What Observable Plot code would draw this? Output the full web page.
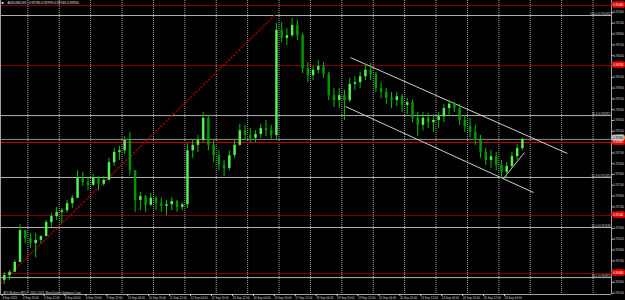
<!DOCTYPE html>
<html>
<head>
<meta charset="utf-8">
<script src="https://cdn.jsdelivr.net/npm/d3@7"></script>
<script src="https://cdn.jsdelivr.net/npm/@observablehq/plot@0.6"></script>
<style>
  html, body { margin: 0; padding: 0; background: #000; }
  #chart { width: 625px; height: 300px; overflow: hidden; }
</style>
</head>
<body>
<div id="chart"></div>
<script>
// ---- Data (AUDUSD, H1, each entry = 4 hourly bars) ----
const open = [0.9034,0.9043,0.9049,0.9067,0.9126,0.9111,0.9102,0.9108,0.9115,0.9141,
  0.9152,0.9160,0.9163,0.9176,0.9186,0.9223,0.9215,0.9210,0.9223,0.9212,
  0.9219,0.9252,0.9271,0.9274,0.9293,0.9237,0.9182,0.9189,0.9173,0.9186,
  0.9176,0.9171,0.9174,0.9180,0.9169,0.9174,0.9274,0.9284,0.9293,0.9334,
  0.9284,0.9265,0.9247,0.9241,0.9265,0.9284,0.9311,0.9302,0.9297,0.9304,
  0.9315,0.9311,0.9302,0.9497,0.9482,0.9487,0.9506,0.9487,0.9426,0.9413,
  0.9423,0.9430,0.9415,0.9376,0.9367,0.9376,0.9367,0.9397,0.9400,0.9411,
  0.9423,0.9415,0.9389,0.9382,0.9371,0.9367,0.9374,0.9358,0.9363,0.9334,
  0.9321,0.9334,0.9326,0.9330,0.9337,0.9352,0.9360,0.9352,0.9330,0.9319,
  0.9308,0.9293,0.9271,0.9256,0.9263,0.9247,0.9234,0.9245,0.9263,0.9278];
const high = [0.9049,0.9052,0.9071,0.9137,0.9126,0.9121,0.9121,0.9117,0.9145,0.9158,
  0.9169,0.9167,0.9182,0.9191,0.9237,0.9234,0.9223,0.9230,0.9226,0.9226,
  0.9260,0.9278,0.9282,0.9300,0.9308,0.9237,0.9197,0.9191,0.9195,0.9189,
  0.9186,0.9182,0.9187,0.9182,0.9178,0.9287,0.9293,0.9302,0.9345,0.9339,
  0.9293,0.9274,0.9256,0.9274,0.9293,0.9323,0.9321,0.9315,0.9311,0.9323,
  0.9330,0.9321,0.9510,0.9511,0.9500,0.9519,0.9515,0.9491,0.9437,0.9430,
  0.9441,0.9437,0.9419,0.9389,0.9389,0.9386,0.9408,0.9411,0.9419,0.9434,
  0.9436,0.9419,0.9400,0.9389,0.9382,0.9382,0.9378,0.9371,0.9367,0.9345,
  0.9345,0.9343,0.9341,0.9345,0.9360,0.9367,0.9363,0.9360,0.9339,0.9334,
  0.9321,0.9302,0.9278,0.9274,0.9271,0.9256,0.9252,0.9271,0.9286,0.9297];
const low = [0.9026,0.9034,0.9049,0.9067,0.9102,0.9093,0.9076,0.9102,0.9115,0.9132,
  0.9145,0.9139,0.9158,0.9167,0.9186,0.9208,0.9200,0.9208,0.9200,0.9208,
  0.9219,0.9245,0.9256,0.9267,0.9228,0.9160,0.9163,0.9160,0.9171,0.9163,
  0.9160,0.9154,0.9163,0.9160,0.9163,0.9167,0.9260,0.9271,0.9289,0.9274,
  0.9252,0.9237,0.9226,0.9237,0.9260,0.9282,0.9293,0.9289,0.9289,0.9297,
  0.9300,0.9293,0.9293,0.9474,0.9469,0.9484,0.9478,0.9417,0.9400,0.9404,
  0.9417,0.9408,0.9367,0.9354,0.9352,0.9330,0.9363,0.9386,0.9389,0.9404,
  0.9404,0.9382,0.9371,0.9360,0.9352,0.9356,0.9345,0.9341,0.9326,0.9300,
  0.9311,0.9315,0.9308,0.9315,0.9326,0.9337,0.9345,0.9321,0.9308,0.9297,
  0.9284,0.9260,0.9247,0.9241,0.9237,0.9223,0.9223,0.9241,0.9256,0.9274];
const close = [0.9043,0.9049,0.9067,0.9126,0.9111,0.9102,0.9108,0.9115,0.9141,0.9152,
  0.9160,0.9163,0.9176,0.9186,0.9223,0.9215,0.9210,0.9223,0.9212,0.9219,
  0.9252,0.9271,0.9274,0.9293,0.9237,0.9182,0.9189,0.9173,0.9186,0.9176,
  0.9171,0.9174,0.9180,0.9169,0.9174,0.9274,0.9284,0.9293,0.9334,0.9284,
  0.9265,0.9247,0.9241,0.9265,0.9284,0.9311,0.9302,0.9297,0.9304,0.9315,
  0.9311,0.9302,0.9497,0.9482,0.9487,0.9506,0.9487,0.9426,0.9413,0.9423,
  0.9430,0.9415,0.9376,0.9367,0.9376,0.9367,0.9397,0.9400,0.9411,0.9423,
  0.9415,0.9389,0.9382,0.9371,0.9367,0.9374,0.9358,0.9363,0.9334,0.9321,
  0.9334,0.9326,0.9330,0.9337,0.9352,0.9360,0.9352,0.9330,0.9319,0.9308,
  0.9293,0.9271,0.9256,0.9263,0.9247,0.9234,0.9245,0.9263,0.9278,0.9295];
const barsPerCandle = 4;

// time axis labels (every 16 hourly bars)
const timeLabels = ["4 Sep 2013","4 Sep 20:00","5 Sep 12:00","6 Sep 04:00","6 Sep 20:00",
  "9 Sep 12:00","10 Sep 04:00","10 Sep 20:00","11 Sep 12:00","12 Sep 04:00",
  "12 Sep 20:00","13 Sep 12:00","16 Sep 04:00","16 Sep 20:00","17 Sep 12:00",
  "18 Sep 04:00","18 Sep 20:00","19 Sep 12:00","20 Sep 04:00","20 Sep 20:00",
  "23 Sep 12:00","24 Sep 04:00","24 Sep 20:00","25 Sep 12:00","26 Sep 04:00"];
const timeTickBars = timeLabels.map((_, i) => i * 16);
// day separators (midnight), in bars
const dayBars = [20,44,68,92,116,140,164,188,212,236,260,284,308,332,356,380,404,428,452];

// price axis ticks (those hidden under price boxes are left out, as in the terminal)
const priceTicks = [0.9530,0.9510,0.9490,0.9470,0.9450,0.9410,0.9390,0.9370,0.9350,
  0.9330,0.9310,0.9270,0.9250,0.9230,0.9210,0.9190,0.9170,
  0.9130,0.9110,0.9090,0.9070,0.9030,0.9010];

// horizontal levels
const redLevels = [0.95430, 0.94318, 0.91541, 0.90466];
const redMain = 0.92892;
const bidPrice = 0.92950;
const fibNames = ["100.0","76.4","61.8","50.0","38.2"];
const fibPrices = [0.95244, 0.93391, 0.92245, 0.91318, 0.90391];
const fibAnchorBars = [-123, 208.5];
const fibAnchorPrices = [0.87392, 0.95244];

// drawn trend/channel lines (bar, price)
const lineStartBar = [266.6, 262.8, 383.5];
const lineStartPrice = [0.94466, 0.93559, 0.92226];
const lineEndBar = [432.4, 406.5, 399.6];
const lineEndPrice = [0.92689, 0.91966, 0.92707];

const symbolTitle = "AUDUSD,H1  0.92780 0.92970 0.92740 0.92950";
const copyright = "ATC Brokers MT4 \u00A9 2001-2013, MetaQuotes Software Corp.";

// ---- Build tables ----
const candles = open.map((o, i) => ({
  bar: i * barsPerCandle + barsPerCandle / 2,
  open: o, high: high[i], low: low[i], close: close[i], up: close[i] >= o
}));
const fib = fibNames.map((n, i) => ({name: n, price: fibPrices[i]}));
const fibAnchor = fibAnchorBars.map((b, i) => ({bar: b, price: fibAnchorPrices[i]}));
const trendLines = lineStartBar.map((b, i) => ({x1: b, y1: lineStartPrice[i], x2: lineEndBar[i], y2: lineEndPrice[i]}));

const xDomain = [-0.9, 466.1];
const yDomain = [0.900778, 0.955222];
const fs = 2.9;
const font = "Liberation Sans, Arial, sans-serif";

const chart = Plot.plot({
  width: 625, height: 300,
  marginLeft: 0, marginRight: 14, marginTop: 0, marginBottom: 6,
  style: {background: "#000", color: "#d0d0d0", fontFamily: font, fontSize: fs + "px", overflow: "hidden"},
  x: {domain: xDomain, axis: null},
  y: {domain: yDomain, axis: null},
  marks: [
    Plot.ruleX(dayBars, {stroke: "#a8a8a8", strokeDasharray: "1,1"}),
    Plot.ruleY(redLevels, {stroke: "#800000"}),
    Plot.ruleY(fibPrices, {stroke: "#b0b0b0"}),
    Plot.ruleY([bidPrice], {stroke: "#8c8c8c"}),
    Plot.ruleY([redMain], {stroke: "#d00000"}),
    Plot.line(fibAnchor, {x: "bar", y: "price", stroke: "#900000", strokeDasharray: "1,2.5", clip: true}),
    Plot.link(trendLines, {x1: "x1", y1: "y1", x2: "x2", y2: "y2", stroke: "#cfcfcf"}),
    Plot.ruleX(candles, {x: "bar", y1: "low", y2: "high", stroke: "#00c000", strokeWidth: 1}),
    Plot.ruleX(candles, {x: "bar", y1: "open", y2: "close",
      stroke: d => d.up ? "#55ee55" : "#009800", strokeWidth: 2.5}),
    // frame borders
    Plot.ruleX([xDomain[0]], {stroke: "#a0a0a0"}),
    Plot.ruleX([xDomain[1]], {stroke: "#a0a0a0"}),
    Plot.ruleY([yDomain[0]], {stroke: "#a0a0a0"}),
    // axes
    Plot.axisY(priceTicks, {anchor: "right", tickSize: 1.5, tickPadding: 0.5, fontSize: fs,
      tickFormat: d => d.toFixed(5), label: null}),
    Plot.axisX(timeTickBars, {anchor: "bottom", tickSize: 2, tickPadding: 0.5, fontSize: fs,
      textAnchor: "start", dx: 0.5, tickFormat: d => timeLabels[timeTickBars.indexOf(d)], label: null}),
    // fib labels
    Plot.text(fib, {y: "price", text: d => `${d.name} (${d.price.toFixed(5)})`, frameAnchor: "right",
      textAnchor: "end", lineAnchor: "bottom", dx: -1, dy: -0.5, fill: "#d0d0d0", fontSize: fs}),
    // price boxes
    Plot.text(redLevels.concat([redMain]), {y: d => d, text: d => d.toFixed(5), frameAnchor: "right",
      textAnchor: "start", dx: 1.5, fill: "#fff", stroke: "#e00000", strokeWidth: 3.5, fontSize: fs}),
    Plot.text([bidPrice], {y: d => d, text: d => d.toFixed(5), frameAnchor: "right",
      textAnchor: "start", dx: 1.5, dy: -1.5, fill: "#000", stroke: "#c8c8c8", strokeWidth: 3, fontSize: fs}),
    // header and copyright
    Plot.text(["\u25A0"], {frameAnchor: "top-left", textAnchor: "start", lineAnchor: "top", dx: 1, dy: 1, fill: "#fff", fontSize: 3.5}),
    Plot.text([symbolTitle], {frameAnchor: "top-left", textAnchor: "start", lineAnchor: "top", dx: 7, dy: 1.5, fill: "#e8e8e8", fontSize: fs + 0.4}),
    Plot.text([copyright], {frameAnchor: "bottom-left", textAnchor: "start", lineAnchor: "bottom", dx: 3, dy: -1, fill: "#d8d8d8", fontSize: fs})
  ]
});
document.getElementById("chart").append(chart);
</script>
</body>
</html>
